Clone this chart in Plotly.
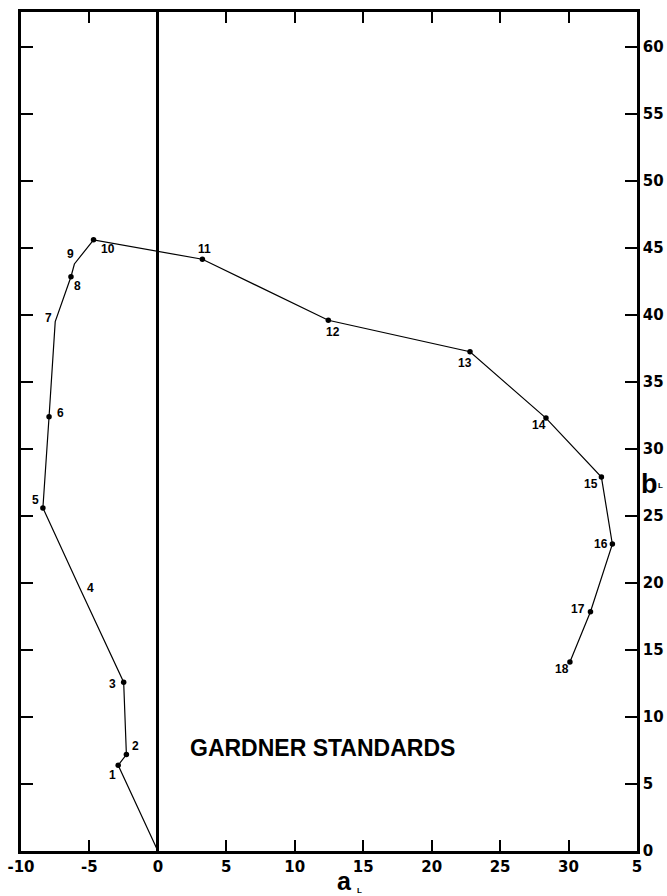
import plotly.graph_objects as go

# Gardner standards: a_L and b_L values
labels = ["1", "2", "3", "4", "5", "6", "7", "8", "9", "10",
          "11", "12", "13", "14", "15", "16", "17", "18"]
a_vals = [-2.9, -2.3, -2.5, -5.7, -8.4, -7.95, -7.5, -6.35, -6.1, -4.7,
          3.25, 12.45, 22.8, 28.35, 32.4, 33.2, 31.6, 30.1]
b_vals = [6.4, 7.2, 12.6, 19.6, 25.6, 32.4, 39.5, 42.85, 43.8, 45.6,
          44.15, 39.6, 37.25, 32.3, 27.9, 22.9, 17.85, 14.1]
origin_a = [0.0]
origin_b = [0.0]

x_tickvals = [-10, -5, 0, 5, 10, 15, 20, 25, 30, 35]
x_ticktext = ["-10", "-5", "0", "5", "10", "15", "20", "25", "30", "5"]
y_tickvals = [0, 5, 10, 15, 20, 25, 30, 35, 40, 45, 50, 55, 60]
y_ticktext = [str(v) for v in y_tickvals]

# styling (not data)
has_dot = [True, True, True, False, True, True, False, True, False, True,
           True, True, True, True, True, True, True, True]
label_shift = [(-6, -10), (9, 9), (-11, -2), (11, 0), (-7, 8), (11, 4), (-7, 4),
               (7, -9), (-4, 10), (14, -9), (2, 10), (5, -12), (-5, -11),
               (-7, -7), (-10, -7), (-11, 0), (-12, 3), (-8, -7)]

FONT = "Liberation Sans"
TICKFONT = "DejaVu Sans"

fig = go.Figure()
fig.add_trace(go.Scatter(
    x=origin_a + a_vals, y=origin_b + b_vals, mode="lines",
    line=dict(color="black", width=1.2), hoverinfo="skip", showlegend=False))
fig.add_trace(go.Scatter(
    x=[a for a, d in zip(a_vals, has_dot) if d],
    y=[b for b, d in zip(b_vals, has_dot) if d],
    mode="markers", marker=dict(color="black", size=5.5),
    showlegend=False))

for lab, a, b, (dx, dy) in zip(labels, a_vals, b_vals, label_shift):
    fig.add_annotation(x=a, y=b, text=lab, showarrow=False,
                       xshift=dx, yshift=dy,
                       font=dict(family=FONT, size=12, color="black", weight="bold"))

fig.add_annotation(x=12.0, y=7.7, text="GARDNER STANDARDS", showarrow=False,
                   font=dict(family=FONT, size=23, color="black", weight="bold"))
# axis titles: letter plus small subscript L
fig.add_annotation(x=13.6, y=0, yref="paper", yanchor="top", yshift=-14,
                   text="a", showarrow=False,
                   font=dict(family=FONT, size=25, color="black", weight="bold"))
fig.add_annotation(x=13.6, y=0, yref="paper", yanchor="top", yshift=-33, xshift=15,
                   text="L", showarrow=False,
                   font=dict(family=FONT, size=8, color="black", weight="bold"))
fig.add_annotation(x=1, xref="paper", xanchor="left", xshift=2, y=27.4,
                   text="b", showarrow=False,
                   font=dict(family=FONT, size=27, color="black", weight="bold"))
fig.add_annotation(x=1, xref="paper", xanchor="left", xshift=19, y=27.7, yshift=-6,
                   text="L", showarrow=False,
                   font=dict(family=FONT, size=8, color="black", weight="bold"))

fig.update_xaxes(range=[-10, 35], tickvals=x_tickvals, ticktext=x_ticktext,
                 ticks="inside", ticklen=11, tickwidth=2, tickcolor="black",
                 showline=True, linecolor="black", linewidth=2.5, mirror="allticks",
                 showgrid=False, zeroline=True, zerolinecolor="black", zerolinewidth=2.5,
                 automargin=False, ticklabelstandoff=0, ticklabeloverflow="allow",
                 tickfont=dict(family=TICKFONT, size=15, color="black", weight="bold"))
fig.update_yaxes(range=[0, 62.6], side="right", tickvals=y_tickvals, ticktext=y_ticktext,
                 ticks="inside", ticklen=12, tickwidth=2, tickcolor="black",
                 showline=True, linecolor="black", linewidth=2.5, mirror="allticks",
                 showgrid=False, zeroline=False, automargin=False, ticklabelstandoff=0,
                 ticklabeloverflow="allow",
                 tickfont=dict(family=TICKFONT, size=15, color="black", weight="bold"))

fig.update_layout(width=667, height=896, plot_bgcolor="white", paper_bgcolor="white",
                  margin=dict(l=21, r=30, t=12, b=45), showlegend=False)

fig.write_html("out.html", config={"displayModeBar": False},
               post_script="document.body.style.margin='0';document.body.style.overflow='hidden';")
